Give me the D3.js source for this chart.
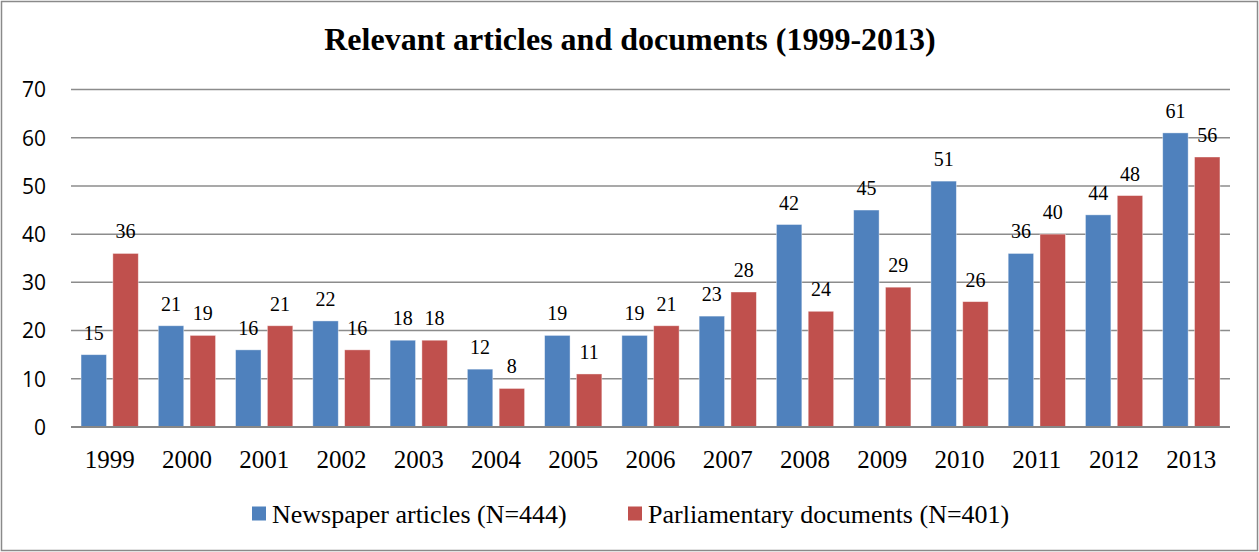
<!DOCTYPE html>
<html>
<head>
<meta charset="utf-8">
<script src="https://cdn.jsdelivr.net/npm/d3@7"></script>
<style>
  html, body { margin: 0; padding: 0; background: #fff; }
  svg { display: block; }
  .serif { font-family: "Liberation Serif", "Tinos", "DejaVu Serif", serif; }
  .sans { font-family: "Open Sans", "Liberation Sans", sans-serif; }
</style>
</head>
<body>
<svg id="chart" width="1259" height="552"></svg>
<script>
// Yearly counts of relevant items, 1999–2013
const years = ["1999","2000","2001","2002","2003","2004","2005","2006","2007","2008","2009","2010","2011","2012","2013"];
const newspaperArticles = [15, 21, 16, 22, 18, 12, 19, 19, 23, 42, 45, 51, 36, 44, 61];
const parliamentaryDocs = [36, 19, 21, 16, 18, 8, 11, 21, 28, 24, 29, 26, 40, 48, 56];
const seriesNames = ["Newspaper articles (N=444)", "Parliamentary documents (N=401)"];
const seriesColors = ["#4F81BD", "#C0504D"];
const yTicks = [0, 10, 20, 30, 40, 50, 60, 70];
const titleText = "Relevant articles and documents (1999-2013)";

const seriesValues = [newspaperArticles, parliamentaryDocs];
const rows = years.map((yr, i) => ({ year: yr, values: seriesValues.map(s => s[i]) }));

const W = 1259, H = 552;
const plot = { left: 71, right: 1230, top: 89.5, bottom: 427 };
const svg = d3.select("#chart");

// Outer frame
svg.append("rect")
  .attr("x", 1.5).attr("y", 1.5)
  .attr("width", W - 3).attr("height", H - 3)
  .attr("fill", "#fff").attr("stroke", "#8a8a8a").attr("stroke-width", 1.5);

// Title
svg.append("text")
  .attr("class", "serif")
  .attr("x", 630).attr("y", 49.5)
  .attr("text-anchor", "middle")
  .attr("font-weight", "bold")
  .attr("font-size", 32)
  .attr("fill", "#000")
  .text(titleText);

const y = d3.scaleLinear().domain([0, 70]).range([plot.bottom, plot.top]);
const x0 = d3.scaleBand().domain(years).range([plot.left, plot.right])
  .paddingInner(0.259).paddingOuter(0.13);
const x1 = d3.scaleBand().domain(d3.range(seriesNames.length)).range([0, x0.bandwidth()])
  .paddingInner(0.2);

// Horizontal gridlines
svg.append("g")
  .selectAll("line")
  .data(yTicks.filter(t => t > 0))
  .join("line")
  .attr("x1", plot.left).attr("x2", plot.right)
  .attr("y1", d => y(d)).attr("y2", d => y(d))
  .attr("stroke", "#8c8c8c").attr("stroke-width", 1.5);

// Y axis labels
const yAxis = d3.axisLeft(y).tickValues(yTicks).tickSize(0).tickPadding(0);
const yg = svg.append("g")
  .attr("transform", `translate(${plot.left - 25},0)`)
  .call(yAxis);
yg.select(".domain").remove();
yg.attr("font-family", null);
yg.selectAll("text")
  .attr("class", "sans")
  .attr("font-size", 21)
  .attr("fill", "#000")
  .attr("dy", "0.35em");

// Bars
const groups = svg.append("g")
  .selectAll("g")
  .data(rows)
  .join("g")
  .attr("transform", d => `translate(${x0(d.year)},0)`);

groups.selectAll("rect")
  .data(d => d.values.map((v, k) => ({ v, k })))
  .join("rect")
  .attr("x", d => x1(d.k))
  .attr("width", x1.bandwidth())
  .attr("y", d => y(d.v))
  .attr("height", d => y(0) - y(d.v))
  .attr("fill", d => seriesColors[d.k])
  .attr("stroke", "#ffffff").attr("stroke-opacity", 0.5).attr("stroke-width", 0.8);

// Value labels
groups.selectAll("text")
  .data(d => d.values.map((v, k) => ({ v, k })))
  .join("text")
  .attr("class", "serif")
  .attr("x", d => x1(d.k) + x1.bandwidth() / 2)
  .attr("y", d => y(d.v) - 15)
  .attr("text-anchor", "middle")
  .attr("font-size", 20)
  .attr("fill", "#000")
  .text(d => d.v);

// X axis labels and baseline
const xAxis = d3.axisBottom(x0).tickSize(0).tickPadding(0);
const xg = svg.append("g")
  .attr("transform", `translate(0,${plot.bottom})`)
  .call(xAxis);
xg.select(".domain").remove();
xg.attr("font-family", null);
xg.selectAll("text")
  .attr("class", "serif")
  .attr("font-size", 25)
  .attr("fill", "#000")
  .attr("dy", 0)
  .attr("y", 41);
svg.append("line")
  .attr("x1", plot.left).attr("x2", plot.right)
  .attr("y1", y(0)).attr("y2", y(0))
  .attr("stroke", "#878787").attr("stroke-width", 2);

// Legend
const legendItems = [
  { name: seriesNames[0], color: seriesColors[0], x: 252 },
  { name: seriesNames[1], color: seriesColors[1], x: 628 }
];
const lg = svg.append("g").selectAll("g")
  .data(legendItems)
  .join("g")
  .attr("transform", d => `translate(${d.x},0)`);
lg.append("rect")
  .attr("x", 0).attr("y", 506.5)
  .attr("width", 14).attr("height", 14)
  .attr("fill", d => d.color);
lg.append("text")
  .attr("class", "serif")
  .attr("x", 20).attr("y", 523)
  .attr("font-size", 26)
  .attr("fill", "#000")
  .text(d => d.name);
</script>
</body>
</html>
